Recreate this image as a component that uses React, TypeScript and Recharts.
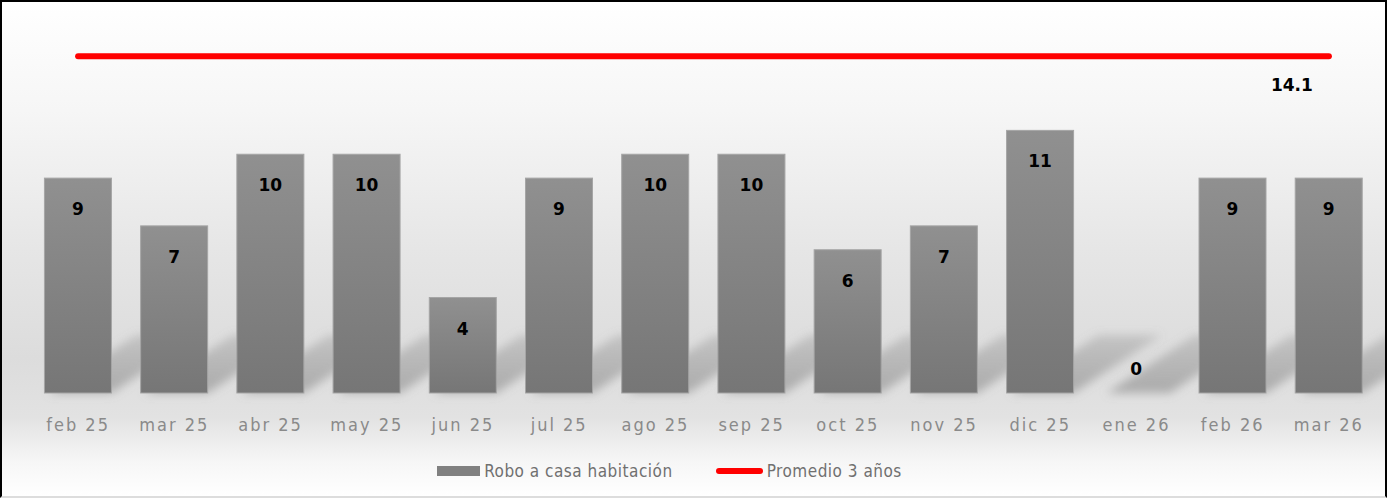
import React from 'react';
import { ComposedChart, Bar, Line, XAxis, YAxis, LabelList } from 'recharts';

const months = ['feb 25', 'mar 25', 'abr 25', 'may 25', 'jun 25', 'jul 25', 'ago 25', 'sep 25', 'oct 25', 'nov 25', 'dic 25', 'ene 26', 'feb 26', 'mar 26'];
const robo = [9, 7, 10, 10, 4, 9, 10, 10, 6, 7, 11, 0, 9, 9];
const promedio = [14.1, 14.1, 14.1, 14.1, 14.1, 14.1, 14.1, 14.1, 14.1, 14.1, 14.1, 14.1, 14.1, 14.1];

const data = months.map((m, i) => ({ mes: m, robo: robo[i], promedio: promedio[i] }));

const tickFont = '"DejaVu Sans Condensed", "Liberation Sans", sans-serif';

const BarShape = (props: any) => {
  const { x, y, width, height } = props;
  const b = y + height;
  return (
    <g>
      <polygon
        points={`${x + 4},${b} ${x + width},${b} ${x + width + 88},${b - 58} ${x + 92},${b - 58}`}
        fill="url(#shadowGrad)"
        filter="url(#blurShadow)"
      />
      {height > 0 && (
        <rect x={x} y={y} width={width} height={height} fill="url(#barGrad)" stroke="#a5a5a5" strokeWidth={1} />
      )}
    </g>
  );
};

const BarLabel = (props: any) => {
  const { x, y, width, height, value } = props;
  const cx = x + width / 2;
  const ty = value === 0 ? y + height - 18 : y + 37;
  return (
    <text x={cx} y={ty} textAnchor="middle" fontFamily="DejaVu Sans, sans-serif" fontWeight="bold" fontSize={17} fill="#000">
      {value}
    </text>
  );
};

const LineLabel = (props: any) => {
  const { x, y, index, value } = props;
  if (index !== months.length - 1) return null;
  return (
    <text x={x - 16} y={y + 35} textAnchor="end" fontFamily="DejaVu Sans, sans-serif" fontWeight="bold" fontSize={17} fill="#000">
      {value}
    </text>
  );
};

export default function App() {
  return (
    <div>
      <style>{'body{margin:0;}'}</style>
      <div
        style={{
          position: 'relative',
          width: 1383,
          height: 494,
          border: '2px solid #000',
          borderBottomColor: '#ddd',
          background: 'linear-gradient(to bottom, #ffffff 0%, #f6f6f6 22%, #e6e6e6 50%, #dcdcdc 72%, #e2e2e2 84%, #f6f6f6 93%, #ffffff 100%)',
        }}
      >
        <ComposedChart width={1383} height={494} data={data} margin={{ top: 9, right: 8, left: 28, bottom: 53 }} barCategoryGap="15%">
          <defs>
            <linearGradient id="barGrad" x1="0" y1="0" x2="0" y2="1">
              <stop offset="0%" stopColor="#909090" />
              <stop offset="100%" stopColor="#767676" />
            </linearGradient>
            <linearGradient id="shadowGrad" x1="0" y1="1" x2="0" y2="0">
              <stop offset="0%" stopColor="#888888" stopOpacity={0.6} />
              <stop offset="100%" stopColor="#888888" stopOpacity={0.3} />
            </linearGradient>
            <filter id="blurShadow" x="-50%" y="-50%" width="200%" height="200%">
              <feGaussianBlur stdDeviation="5" />
            </filter>
          </defs>
          <XAxis
            dataKey="mes"
            height={50}
            axisLine={false}
            tickLine={false}
            interval={0}
            tick={{ fill: '#8a8a8a', fontSize: 18, fontFamily: tickFont, letterSpacing: 2 }}
            dy={17}
          />
          <YAxis hide domain={[0, 16]} />
          <Bar dataKey="robo" shape={<BarShape />} isAnimationActive={false}>
            <LabelList dataKey="robo" content={<BarLabel />} />
          </Bar>
          <Line
            dataKey="promedio"
            stroke="#ff0000"
            strokeWidth={6}
            strokeLinecap="round"
            dot={false}
            activeDot={false}
            isAnimationActive={false}
          >
            <LabelList dataKey="promedio" content={<LineLabel />} />
          </Line>
        </ComposedChart>
        <div
          style={{
            position: 'absolute',
            top: 459,
            left: -24,
            width: 1383,
            display: 'flex',
            justifyContent: 'center',
            alignItems: 'center',
            fontFamily: tickFont,
            fontSize: 17,
            letterSpacing: 0.5,
            color: '#707070',
          }}
        >
          <span style={{ display: 'inline-block', width: 43, height: 10, background: '#808080', marginRight: 4 }} />
          <span>Robo a casa habitación</span>
          <span style={{ display: 'inline-block', width: 47, height: 6, background: '#ff0000', borderRadius: 3, marginLeft: 43, marginRight: 4 }} />
          <span>Promedio 3 años</span>
        </div>
      </div>
    </div>
  );
}
